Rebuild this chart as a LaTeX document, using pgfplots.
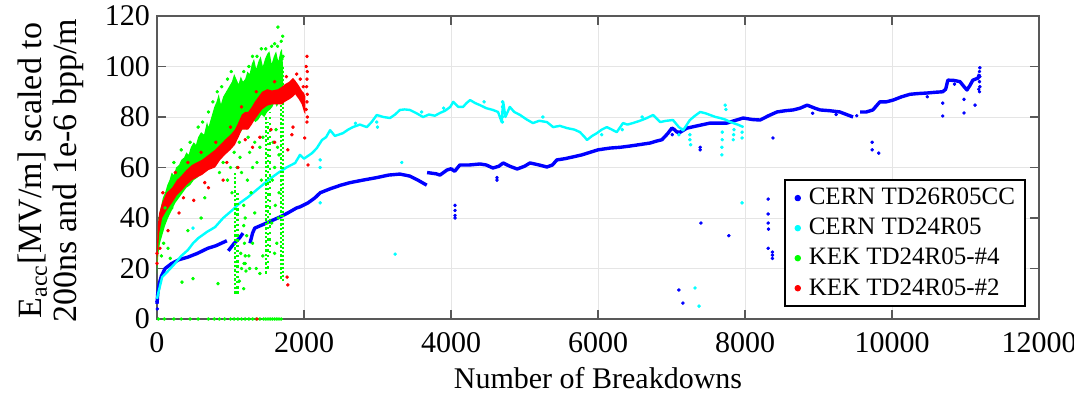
\documentclass[border=0pt]{standalone}
\usepackage{fontspec}
\setmainfont{Liberation Serif}
\usepackage{pgfplots}
\pgfplotsset{compat=1.18}
\definecolor{cblue}{RGB}{0,0,255}
\definecolor{ccyan}{RGB}{0,255,255}
\definecolor{cgreen}{RGB}{0,255,0}
\definecolor{cred}{RGB}{255,0,0}
\begin{document}
\begin{tikzpicture}
\begin{axis}[
  name=ax,
  scale only axis, width=441pt, height=151.5pt,
  xmin=0, xmax=12000, ymin=0, ymax=120,
  xtick={0,2000,...,12000}, ytick={0,20,...,120},
  scaled x ticks=false,
  tick label style={font=\rmfamily\fontsize{15}{17}\selectfont, /pgf/number format/assume math mode=true},
  xticklabel style={/pgf/number format/1000 sep={}, yshift=-3pt},
  tick align=inside, major tick length=4.5pt,
  tick style={color=black!65, line width=0.75pt},
  grid=major, major grid style={color=black!10, line width=0.5pt},
  axis line style={color=black!65, line width=1pt},
  clip=false,
  xlabel={Number of Breakdowns},
  xlabel style={font=\rmfamily\fontsize{15}{17}\selectfont, at={(axis description cs:0.5,0)}, anchor=base, yshift=-34.5pt},
  ylabel={E\textsubscript{acc}[MV/m] scaled to\\200ns and 1e-6 bpp/m},
  ylabel style={font=\rmfamily\fontsize{17}{17.5}\selectfont, align=center, at={(axis description cs:-0.1202,0.49)}, anchor=center},
  legend image code/.code={\path (-1pt,0pt) (5pt,0pt); \fill[#1] (2pt,0pt) circle (1.1pt);},
  legend style={font=\rmfamily\fontsize{12.5}{14}\selectfont, at={(rel axis cs:0.9853,0.0396)}, anchor=south east,
    draw=black, line width=1pt, row sep=1.2pt, inner xsep=3pt, inner ysep=2pt},
  legend cell align=left,
  every axis plot/.append style={line join=round},
]
\addlegendimage{cblue}\addlegendentry{CERN TD26R05CC}
\addlegendimage{ccyan}\addlegendentry{CERN TD24R05}
\addlegendimage{cgreen}\addlegendentry{KEK TD24R05-\#4}
\addlegendimage{cred}\addlegendentry{KEK TD24R05-\#2}

% ---------- CERN TD26R05CC (blue) ----------
\addplot[forget plot, cblue, line width=1.7pt] coordinates {
(0,6) (10,10) (30,14) (60,17) (110,20) (200,22) (300,23.5) (420,24.5) (550,26) (690,28) (800,29) (950,31)};
\addplot[forget plot, cblue, line width=1.7pt] coordinates {
(970,27) (1050,30) (1120,32) (1170,34)};
\addplot[forget plot, cblue, line width=1.7pt] coordinates {
(1265,30) (1300,34) (1330,36) (1450,37.5) (1565,39) (1680,40.5) (1780,42) (1900,44) (1945,44.4) (2055,46) (2150,48) (2220,50) (2350,51.5) (2500,53) (2625,54) (2800,55) (2990,56) (3150,57) (3305,57.4) (3440,56.6) (3550,55) (3670,53)};
\addplot[forget plot, cblue, line width=1.7pt] coordinates {
(3675,58) (3800,57.5) (3850,57) (3945,59) (4000,59.5) (4050,58.5) (4120,61) (4250,61) (4395,61.4) (4480,61) (4570,59.8) (4650,60.5) (4710,61.8) (4800,60.5) (4900,59.4) (5000,60.5) (5075,61.8) (5200,61) (5305,60.2) (5380,61) (5440,63) (5550,63.5) (5660,64.2) (5780,65) (5890,66) (6000,67) (6165,67.7) (6300,68) (6435,68.5) (6550,69) (6710,69.7) (6800,70.5) (6870,71) (6950,73.5) (7005,75.6) (7040,75) (7075,74) (7120,74) (7210,75.6) (7350,76.5) (7525,77.6) (7650,77.6) (7755,77.6) (7850,78.5) (7975,79.6) (8100,79) (8205,78.8) (8320,80.5) (8435,82) (8550,82.5) (8655,82.8) (8750,83.5) (8845,84.7) (8950,83.5) (9020,82.8) (9150,82.5) (9290,82) (9380,81) (9470,80)};
\addplot[forget plot, cblue, line width=1.7pt] coordinates {
(9565,82) (9650,82) (9740,82.8) (9790,84.5) (9835,86) (9920,86) (10015,86.7) (10130,88) (10245,89) (10360,89.3) (10475,89.5) (10590,89.8) (10690,90) (10730,91) (10760,94.6) (10840,94.5) (10925,94) (10980,92) (11020,90.7) (11060,92.5) (11100,94.6) (11170,95.4) (11190,97)};
\addplot[forget plot, cblue, only marks, mark=*, mark size=0.7pt] coordinates {
(0,7) (5,4) (4055,45) (4055,43) (4055,41) (4055,40) (4625,56) (4625,55) (7100,11.5) (7155,6.3) (7400,38) (7390,67) (7390,68) (7780,33) (8315,47.5) (8315,41.6) (8315,38) (8320,35.6) (8315,28) (8373,25.3) (8373,24) (8373,26.5) (8380,71.7) (9730,70) (9730,67) (9820,65.7) (10690,85.5) (10690,80.4) (10980,87) (10980,81.6) (11130,84.7) (11190,90) (11195,92) (11190,94) (11195,96) (11190,98) (11195,99.5) (11180,91) (9520,80.5) (8920,81.5) (9240,81) (10480,88) (10850,93) (7010,73)};

% ---------- CERN TD24R05 (cyan) ----------
\addplot[forget plot, ccyan, line width=1.2pt] coordinates {
(0,8) (15,10) (70,16.6) (150,19) (245,22) (330,25) (420,27.3) (490,30) (560,32) (680,34.5) (790,36.4) (900,40) (1020,43) (1130,46) (1240,48.3) (1350,51) (1470,53.9) (1560,56) (1645,57.8) (1760,60) (1880,61.8) (1945,65) (2000,63.5) (2110,65.7) (2175,67.7) (2245,70.9) (2300,72) (2355,74.8) (2420,72.5) (2530,73.6) (2600,75) (2665,76) (2760,77) (2855,76) (2920,78) (2990,80.8) (3080,80) (3170,79.6) (3240,81) (3305,82.8) (3370,83) (3440,82.8) (3530,81.5) (3620,80) (3700,81) (3780,80.5) (3850,81.6) (3920,82.5) (3990,84) (4030,86) (4100,84) (4165,84) (4210,85.5) (4260,86.7) (4330,85.5) (4395,84.7) (4480,83.5) (4570,82.8) (4640,82) (4690,78) (4710,86) (4740,80) (4800,84) (4860,82) (4940,80.8) (5030,79) (5115,77.6) (5200,78.5) (5305,78) (5390,76) (5480,76.5) (5580,75.6) (5680,75) (5755,74) (5820,72) (5850,70.9) (5920,72.5) (5985,73.6) (6050,75) (6120,76) (6190,75) (6255,74) (6340,77.6) (6400,77) (6475,77.6) (6570,78.5) (6665,79.6) (6750,80.8) (6845,78) (6930,78.5) (7020,78.8) (7100,76) (7160,74.8) (7250,78.8) (7320,80.5) (7390,82) (7460,81.5) (7525,80.8) (7600,80) (7660,79.6) (7730,79) (7800,78) (7900,77) (7980,76)};
\addplot[forget plot, ccyan, only marks, mark=*, mark size=0.7pt] coordinates {
(490,36) (2220,63) (2220,60) (2220,46) (3330,62) (3240,25.7) (7960,46) (7320,12.3) (7375,5.1) (7250,71) (7250,73) (7685,65) (7685,68) (7690,71) (7730,84.7) (7740,83) (7840,71) (7845,73) (7960,71.7) (7960,74) (7150,75) (7100,73) (4700,86) (4700,84) (4700,82) (4700,80) (4700,78) (2990,78) (3000,76) (6050,73) (6330,75) (7260,69) (7690,74) (7850,75) (3600,82) (4450,86) (5250,80) (6600,80) (2700,77.5) (3900,83.5)};

% ---------- KEK TD24R05-#4 (green) ----------
\addplot[forget plot, draw=none, fill=cgreen] coordinates {
(0,30) (20,40) (50,44) (80,48) (110,50) (140,53) (170,55) (200,58) (230,57) (260,60) (300,61) (330,63) (370,64) (400,66) (430,65) (460,68) (500,70) (530,69) (560,72) (600,74) (640,73) (680,78) (700,76) (740,80) (780,84) (810,86) (840,89) (870,85) (900,88) (940,90) (980,92) (1020,94) (1050,97) (1080,95) (1110,93) (1140,96) (1170,94) (1200,95) (1230,98) (1260,97) (1290,101) (1320,103) (1350,99) (1380,102) (1410,104) (1440,100) (1470,103) (1500,105) (1530,106) (1560,101) (1590,104) (1620,106) (1650,102) (1680,106) (1700,107) (1715,100)
(1715,86) (1690,88) (1660,86) (1630,84) (1600,86) (1570,84) (1540,83) (1500,82) (1460,80) (1420,81) (1380,79) (1340,78) (1300,79) (1260,76) (1220,75) (1180,76) (1140,74) (1100,74) (1060,72) (1020,71) (980,70) (940,69) (900,68) (860,66) (820,64) (780,63) (740,62) (700,61) (650,59) (600,58) (550,56) (500,55) (450,53) (400,52) (350,50) (300,48) (250,46) (200,43) (150,40) (110,37) (70,33) (40,30) (20,26) (5,20) (0,18)} -- cycle;
\addplot[forget plot, cgreen, line width=1.2pt, dash pattern=on 1.2pt off 1pt] coordinates {(1060,10) (1060,58)};
\addplot[forget plot, cgreen, line width=1.2pt, dash pattern=on 1.2pt off 1.4pt] coordinates {(1095,10) (1095,50)};
\addplot[forget plot, cgreen, line width=1.2pt, dash pattern=on 1.2pt off 1pt] coordinates {(1480,18) (1480,80)};
\addplot[forget plot, cgreen, line width=1.2pt, dash pattern=on 1.2pt off 1.6pt] coordinates {(1510,20) (1510,78)};
\addplot[forget plot, cgreen, line width=1.2pt, dash pattern=on 1.2pt off 2pt] coordinates {(1540,26) (1540,82)};
\addplot[forget plot, cgreen, line width=1.2pt, dash pattern=on 1.2pt off 1pt] coordinates {(1690,16) (1690,88)};
\addplot[forget plot, cgreen, line width=1.2pt, dash pattern=on 1.2pt off 0.8pt] coordinates {(1712,15) (1712,100)};
\addplot[forget plot, cgreen, only marks, mark=*, mark size=0.7pt] coordinates {
(230,62) (330,67) (450,70) (560,76) (620,78) (700,82) (760,86) (820,90) (880,92) (960,95) (1010,98) (1180,98) (1250,100) (1300,104) (1360,104) (1420,107) (1480,107) (1560,108) (1600,109) (1640,108) (1645,115.6) (1690,110) (1710,112) (1700,103) (1715,104) (1000,60) (1020,50) (960,55) (1130,64) (1150,58) (1180,45) (1200,40) (1230,55) (1260,66) (1300,60) (1330,70) (1360,62) (1400,68) (1420,55) (1440,72) (1580,70) (1600,60) (1620,75) (1640,68) (1660,50) (1650,40) (1630,30) (1300,30) (1250,25) (1200,22) (1150,20) (1120,15) (1180,12) (1260,20) (1350,20) (1400,18) (1440,25) (150,28) (200,44) (340,14.6) (490,16) (830,14) (600,40) (650,48) (420,35) (180,24) (90,30) (60,25) (110,44) (1180,37) (1190,30) (1200,25) (1210,19) (1220,33) (1185,22) (900,62) (850,58) (1050,66) (1120,70) (1240,72) (1280,50) (1330,42) (1570,55) (1610,45) (1660,65) (1600,26) (1560,38) (1140,26) (1090,60)
(20,0) (100,0) (230,0) (330,0) (450,0) (560,0) (700,0) (780,0) (850,0) (920,0) (1000,0) (1050,0) (1100,0) (1150,0) (1200,0) (1250,0) (1300,0) (1350,0) (1400,0) (1450,0) (1480,0) (1510,0) (1540,0) (1570,0) (1600,0) (1630,0) (1660,0) (1690,0)};

% ---------- KEK TD24R05-#2 (red) ----------
\addplot[forget plot, draw=none, fill=cred] coordinates {
(0,29) (10,37) (30,42) (70,46) (130,50) (205,52) (270,55) (340,57) (400,59) (475,61) (540,62) (610,63) (700,65) (790,67) (860,69) (925,71) (1000,73) (1060,75) (1110,78) (1155,81) (1200,82) (1240,82) (1290,84) (1330,86) (1380,88) (1430,90) (1500,91) (1565,90.5) (1645,91) (1700,92) (1740,93) (1800,94) (1850,95.5) (1880,94.5) (1930,92.5) (1970,90.5) (2000,89.5) (2020,88)
(2020,81) (2000,82) (1970,85) (1930,87) (1880,89) (1850,88) (1800,87) (1740,86) (1700,85) (1645,85) (1565,85) (1500,84.5) (1430,83) (1380,81) (1330,79) (1290,77) (1240,75) (1200,75) (1155,75) (1110,72) (1060,69) (1000,67) (925,65) (860,63) (790,60) (700,59) (610,57) (540,56) (475,55) (400,53) (340,51) (270,49) (205,46) (130,43) (70,40) (30,34) (10,26) (0,21)} -- cycle;
\addplot[forget plot, cred, only marks, mark=*, mark size=0.7pt] coordinates {
(1770,16.6) (1780,13.5) (1835,73) (2010,71.7) (2055,61) (1780,67) (1850,76) (1550,75) (1600,70) (1400,72) (1300,68) (1100,60) (900,55) (700,52) (500,47) (300,42) (150,35) (40,28) (1360,0)
(2030,100) (2040,104) (2045,98) (2040,95) (2035,92) (2045,89) (2040,86) (2030,83) (2045,80) (2040,78)
(0,22) (0,26) (80,50) (250,58) (420,62) (600,66) (800,70) (1000,76) (1150,84) (1350,90) (1600,94) (1760,96) (1900,97) (1950,95) (1990,92) (1200,71) (950,62) (650,54) (360,48)};
\end{axis}
\pgfresetboundingbox
\path ([shift={(-78.5pt,-39.5pt)}]ax.south west) rectangle ([shift={(17.5pt,8pt)}]ax.north east);
\end{tikzpicture}
\end{document}
